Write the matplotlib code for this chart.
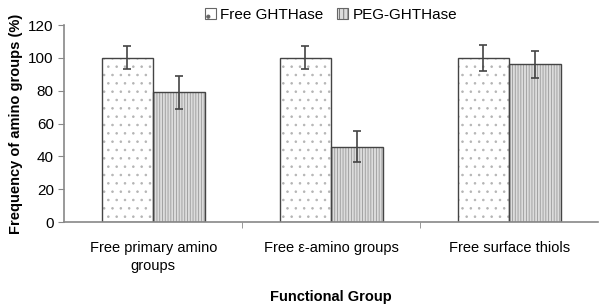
import matplotlib.pyplot as plt
import numpy as np

plt.rcParams['font.family'] = ['Liberation Sans', 'DejaVu Sans']
plt.rcParams['hatch.linewidth'] = 0.6

# data
categories = ["Free primary amino\ngroups", "Free \u03b5-amino groups", "Free surface thiols"]
free_vals = [100, 100, 100]
free_err = [7, 7, 8]
peg_vals = [79, 46, 96]
peg_err = [10, 9.5, 8]

x = np.arange(len(categories))
w = 0.29

fig = plt.figure(figsize=(6, 3.05), dpi=100)
ax = fig.add_axes([0.107, 0.272, 0.89, 0.646])

# hatch fill (light), then dark outline on top
ax.bar(x - w/2, free_vals, w, color="white", edgecolor="#b4b4b4", hatch="..",
       linewidth=0)
ax.bar(x + w/2, peg_vals, w, color="#dcdcdc", edgecolor="#999999", hatch="||||||",
       linewidth=0)
ax.bar(x - w/2, free_vals, w, fill=False, edgecolor="#444444", linewidth=1.0)
ax.bar(x + w/2, peg_vals, w, fill=False, edgecolor="#444444", linewidth=1.0)
# legend proxies
h1 = plt.Rectangle((0, 0), 1, 1, facecolor="white", edgecolor="#666666", hatch=".", linewidth=0.8)
h2 = plt.Rectangle((0, 0), 1, 1, facecolor="#dcdcdc", edgecolor="#666666", hatch="||||", linewidth=0.8)

ax.errorbar(x - w/2, free_vals, yerr=free_err, fmt="none", ecolor="#444444",
            elinewidth=1.2, capsize=3, capthick=1.2)
ax.errorbar(x + w/2, peg_vals, yerr=peg_err, fmt="none", ecolor="#444444",
            elinewidth=1.2, capsize=3, capthick=1.2)

ax.set_xlim(-0.5, 2.5)
ax.set_ylim(0, 120)
ax.set_yticks(range(0, 121, 20))
ax.set_xticks(x)
ax.set_xticklabels(categories, fontsize=10.5, linespacing=1.35)
ax.set_xticks([0.5, 1.5], minor=True)
ax.tick_params(axis="x", which="major", length=0, pad=14)
ax.tick_params(axis="x", which="minor", length=4, color="#888888")
ax.tick_params(axis="y", length=4, color="#888888", labelsize=11)

for s in ["top", "right"]:
    ax.spines[s].set_visible(False)
for s in ["left", "bottom"]:
    ax.spines[s].set_color("#888888")
    ax.spines[s].set_linewidth(1.2)

ax.set_ylabel("Frequency of amino groups (%)", fontsize=10.5, fontweight="bold")
ax.set_xlabel("Functional Group", fontsize=10.5, fontweight="bold", labelpad=12)

ax.legend([h1, h2], ["Free GHTHase", "PEG-GHTHase"], loc="lower center",
          bbox_to_anchor=(0.5, 0.985), ncol=2, frameon=False,
          fontsize=11, handlelength=0.7, handleheight=0.7, handletextpad=0.3,
          columnspacing=0.9, borderaxespad=0)

fig.savefig("out.png", dpi=100)
